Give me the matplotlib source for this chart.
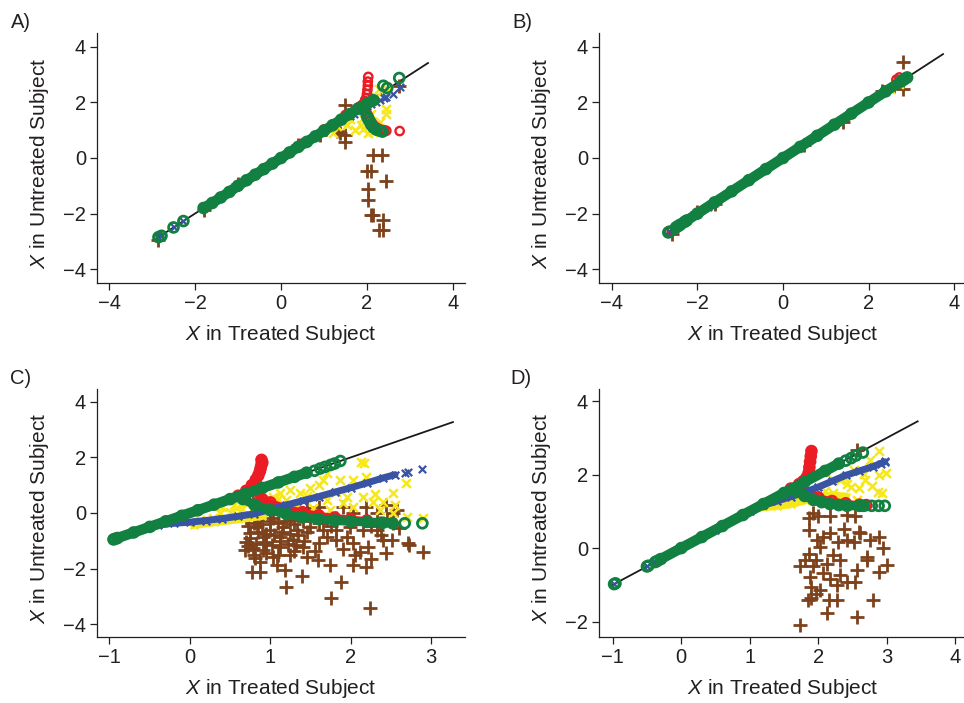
import matplotlib
matplotlib.use('Agg')
import matplotlib.pyplot as plt

plt.rcParams['font.family'] = ['Liberation Sans', 'DejaVu Sans']
plt.rcParams['mathtext.fontset'] = 'custom'
plt.rcParams['mathtext.it'] = 'Liberation Sans:italic'
plt.rcParams['mathtext.rm'] = 'Liberation Sans'

RED = '#ec1c24'
GREEN = '#118040'
BLUE = '#3a54a4'
YELLOW = '#f6e71c'
BROWN = '#7d421c'
INK = '#231f20'

# ---------------- panel A ----------------
a_line = [-2.9, 3.42]
a_green_band_x = [-1.8, -1.6, -1.4, -1.2, -1.0, -0.8, -0.6, -0.4, -0.2, 0.0, 0.2, 0.4, 0.6, 0.8, 1.0, 1.2, 1.4, 1.6, 1.8, 2.0, 2.15]
a_green_band_y = [-1.8, -1.62, -1.42, -1.22, -1.0, -0.8, -0.6, -0.4, -0.2, 0.0, 0.2, 0.4, 0.58, 0.78, 0.98, 1.18, 1.38, 1.58, 1.78, 1.95, 2.08]
a_green_x = [-2.85, -2.78, -2.5, -2.27, 2.38, 2.47, 2.75, 2.0, 2.03, 2.07, 2.1, 2.15, 2.22, 2.3, 2.36]
a_green_y = [-2.85, -2.8, -2.5, -2.27, 2.6, 2.52, 2.88, 1.5, 1.4, 1.3, 1.2, 1.1, 1.02, 0.98, 0.95]
a_red_x = [2.03, 2.02, 2.02, 2.01, 2.0, 1.98, 1.96, 1.93, 1.88, 1.82, 1.75, 2.0, 2.04, 2.07, 2.12, 2.18, 2.25, 2.32, 2.4, 2.45, 2.76, 1.5, 1.0, 0.5, -1.8]
a_red_y = [2.92, 2.75, 2.6, 2.45, 2.3, 2.15, 2.05, 1.98, 1.9, 1.84, 1.76, 1.6, 1.48, 1.36, 1.25, 1.15, 1.07, 1.02, 1.0, 0.98, 0.97, 1.55, 1.03, 0.52, -1.78]
a_blue_x = [-2.85, -2.78, -2.5, -2.27, -1.8, 1.6, 1.7, 1.8, 1.9, 2.0, 2.1, 2.2, 2.3, 2.4, 2.45, 2.77, 2.6]
a_blue_y = [-2.85, -2.8, -2.5, -2.27, -1.8, 1.5, 1.58, 1.68, 1.78, 1.86, 1.95, 2.02, 2.08, 2.15, 2.2, 2.57, 2.3]
a_yellow_x = [2.27, 2.45, 2.45, 1.72, 1.53, 1.22, 2.03, 2.15, 1.85, 2.3, 2.1, 1.9, 2.2, 1.6, 1.3, 2.0, 1.9, 2.5, 1.4]
a_yellow_y = [2.5, 1.78, 1.6, 1.0, 1.18, 0.9, 0.9, 0.93, 1.2, 1.3, 1.6, 1.45, 2.2, 1.4, 1.15, 1.1, 1.05, 2.45, 1.3]
a_brown_x = [-2.85, -1.8, -1.0, 0.4, 0.9, 1.49, 1.37, 1.49, 1.49, 1.3, 2.15, 2.34, 2.0, 2.09, 2.45, 2.03, 2.03, 2.09, 2.15, 2.38, 2.27, 2.37, 2.75, 1.85, 1.2]
a_brown_y = [-2.95, -1.86, -0.94, 0.46, 0.84, 1.91, 0.89, 0.82, 0.58, 0.98, 0.11, 0.11, -0.46, -0.46, -0.82, -1.13, -1.51, -2.05, -2.05, -2.23, -2.59, -2.59, 2.6, 1.95, 1.12]

# ---------------- panel B ----------------
b_line = [-2.7, 3.74]
b_green_band_x = [-2.4, -2.0, -1.6, -1.2, -0.8, -0.4, 0.0, 0.4, 0.8, 1.2, 1.6, 2.0, 2.4, 2.8]
b_green_band_y = [-2.4, -2.0, -1.6, -1.2, -0.8, -0.4, 0.0, 0.4, 0.8, 1.2, 1.6, 2.0, 2.4, 2.8]
b_green_x = [-2.68, -2.65, -2.5, -2.45, -2.3, -2.25, 2.75, 2.85, 2.9]
b_green_y = [-2.68, -2.65, -2.5, -2.45, -2.3, -2.25, 2.75, 2.85, 2.9]
b_red_x = [2.65, 2.72, -2.6]
b_red_y = [2.82, 2.9, -2.62]
b_blue_x = [-2.65, -2.25, -2.0, -1.75, 2.9, 2.6]
b_blue_y = [-2.65, -2.25, -2.0, -1.75, 2.9, 2.6]
b_yellow_x = [2.5, 2.7]
b_yellow_y = [2.5, 2.68]
b_brown_x = [2.8, 2.8, 2.31, 1.41, -2.6, -1.6, 2.6, -2.0, 0.5]
b_brown_y = [3.47, 2.47, 2.42, 1.31, -2.72, -1.66, 2.6, -1.95, 0.45]

# ---------------- panel C ----------------
c_line = [-0.95, 3.27]
c_green_band_x = [-0.9, -0.7, -0.5, -0.3, -0.1, 0.1, 0.3, 0.5, 0.7, 0.9, 1.1, 1.3, 1.45]
c_green_band_y = [-0.9, -0.7, -0.5, -0.3, -0.1, 0.1, 0.3, 0.5, 0.7, 0.9, 1.1, 1.3, 1.45]
c_green_low_x = [0.66, 0.8, 1.0, 1.2, 1.4, 1.6, 1.8, 2.0, 2.2, 2.4, 2.52]
c_green_low_y = [0.5, 0.3, 0.1, -0.04, -0.15, -0.22, -0.27, -0.3, -0.32, -0.35, -0.37]
c_green_x = [-0.95, -0.93, 1.55, 1.62, 1.68, 1.75, 1.8, 1.87, 2.67, 2.89]
c_green_y = [-0.95, -0.93, 1.52, 1.6, 1.66, 1.73, 1.78, 1.87, -0.37, -0.37]
c_red_up_x = [0.6, 0.7, 0.77, 0.82, 0.85, 0.87, 0.88, 0.89, 0.9, 0.89]
c_red_up_y = [0.62, 0.8, 1.0, 1.2, 1.35, 1.5, 1.62, 1.74, 1.82, 1.91]
c_red_low_x = [0.85, 0.9, 1.0, 1.2, 1.4, 1.6, 1.8, 2.0, 2.2]
c_red_low_y = [0.58, 0.5, 0.38, 0.18, 0.03, -0.08, -0.16, -0.22, -0.27]
c_blue_band_x = [-0.93, -0.7, -0.5, -0.4, -0.2, 0.0, 0.2, 0.4, 0.6, 0.8, 1.0, 1.2, 1.4, 1.6, 1.8, 2.0, 2.2, 2.4, 2.55]
c_blue_band_y = [-0.93, -0.7, -0.5, -0.43, -0.37, -0.33, -0.27, -0.2, -0.12, -0.03, 0.13, 0.29, 0.44, 0.59, 0.75, 0.91, 1.08, 1.26, 1.38]
c_blue_x = [2.67, 2.71, 2.89]
c_blue_y = [1.45, 1.46, 1.6]
c_yellow_band_x = [0.05, 0.3, 0.6, 0.9]
c_yellow_band_y = [-0.42, -0.33, -0.22, -0.1]
c_yellow_x = [2.13, 2.17, 2.69, 2.9, 2.53, 2.4, 2.19, 2.03, 1.86, 1.66, 1.82, 1.7, 1.61, 1.49, 1.37, 1.24, 1.12, 1.03, 0.95,
              1.7, 1.95, 2.15, 2.28, 2.03, 2.36, 2.53, 0.58, 0.37, 0.12, 0.29, 0.7, 0.91, 1.33, 1.53, 1.74,
              0.4, 0.55, 0.7, 0.85, 1.0, 1.2, 2.55, 2.7, 0.5, 0.65, 0.8, 1.1, 1.45, 1.9, 2.3]
c_yellow_y = [1.85, 1.79, 1.07, -0.19, 0.71, 0.41, 1.31, 1.19, 1.19, 1.19, 0.77, 1.43, 1.01, 0.89, 0.71, 0.83, 0.71, 0.59, 0.47,
              0.47, 0.59, 0.59, 0.41, 0.23, 0.11, -0.01, 0.17, -0.01, -0.25, -0.19, -0.07, 0.05, 0.23, 0.17, 0.11,
              0.2, 0.3, 0.4, 0.3, 0.25, 0.45, 0.3, -0.15, 0.05, 0.15, 0.2, 0.5, 0.6, 0.35, 0.7]
c_brown_x = [2.9, 2.71, 2.24, 1.76, 1.2, 1.88, 1.39, 2.19, 2.03, 1.74, 1.59, 1.18, 1.08, 0.87, 0.77, 0.81, 0.7, 0.68,
             0.91, 1.12, 1.28, 1.41, 1.45, 1.61, 1.82, 2.03, 2.21, 2.11, 2.4, 2.51, 2.38, 2.53, 2.44, 2.57, 2.32,
             2.19, 2.03, 1.9, 1.82, 1.7, 1.61, 1.45, 1.33, 1.2, 1.03, 0.87, 0.7, 0.83, 0.99, 1.16, 1.33, 1.49,
             1.66, 1.82, 1.99, 2.15, 2.32, 1.95, 1.7, 0.75, 0.91, 1.12, 0.95, 0.79, 1.24, 1.03, 0.87, 2.44, 2.73,
             2.36, 2.53, 2.19, 1.24,
             0.72, 0.8, 0.9, 1.0, 1.1, 1.2, 1.3, 1.4, 0.75, 0.85, 0.95, 1.05, 1.15, 1.25, 1.35, 1.45, 0.72, 0.82,
             0.92, 1.02, 1.12, 1.22, 1.32, 1.42, 0.8, 0.95, 1.1, 1.3, 1.55, 1.6, 1.75, 2.0, 2.25, 2.45, 2.6, 1.9,
             2.05, 2.25, 1.0, 0.9, 1.5]
c_brown_y = [-1.39, -1.09, -3.43, -3.07, -2.65, -2.47, -2.27, -1.93, -1.87, -1.87, -1.69, -2.05, -1.87, -2.11, -2.11,
             -1.63, -1.03, -1.33, -1.33, -1.21, -0.97, -1.21, -1.57, -1.09, -0.97, -1.09, -1.21, -1.39, -0.97, -0.97,
             -0.79, -0.01, 0.29, 0.11, -0.01, 0.23, -0.01, 0.23, -0.19, -0.25, 0.23, 0.17, 0.11, -0.01, -0.19, -0.25,
             -0.19, -0.49, -0.61, -0.49, -0.61, -0.49, -0.61, -0.61, -0.49, -0.61, -0.61, -0.85, -0.85, -0.73, -0.85,
             -0.85, -1.09, -1.27, -1.51, -1.57, -1.75, -1.45, -1.15, -0.37, -0.37, -0.25, -0.25,
             -0.45, -0.35, -0.4, -0.3, -0.35, -0.3, -0.4, -0.3, -0.9, -0.7, -0.75, -0.8, -0.7, -0.75, -0.8, -0.7,
             -1.2, -1.1, -1.05, -1.15, -1.0, -1.1, -1.15, -1.0, -1.5, -1.45, -1.5, -1.35, -1.35, -0.35, -0.45, -0.3,
             -0.45, -0.2, -0.55, -1.3, -1.5, -1.65, 0.1, -0.05, 0.0]

# ---------------- panel D ----------------
d_line = [-1.0, 3.45]
d_green_band_x = [-0.3, 0.0, 0.3, 0.6, 0.9, 1.2, 1.5, 1.8, 2.1, 2.3]
d_green_band_y = [-0.3, 0.0, 0.3, 0.6, 0.9, 1.2, 1.5, 1.8, 2.1, 2.3]
d_green_low_x = [1.69, 1.8, 1.93, 2.05, 2.17, 2.3, 2.42, 2.6]
d_green_low_y = [1.53, 1.42, 1.31, 1.25, 1.2, 1.17, 1.15, 1.15]
d_green_x = [-0.98, -0.96, -0.5, -0.48, -0.38, -0.35, 2.4, 2.48, 2.55, 2.65, 2.66, 2.78, 2.88, 2.97]
d_green_y = [-0.98, -0.96, -0.5, -0.48, -0.38, -0.35, 2.38, 2.45, 2.52, 2.6, 1.15, 1.15, 1.15, 1.15]
d_red_up_x = [1.6, 1.72, 1.78, 1.83, 1.86, 1.87, 1.88, 1.89, 1.9]
d_red_up_y = [1.62, 1.74, 1.82, 1.92, 2.05, 2.2, 2.35, 2.5, 2.64]
d_red_low_x = [1.75, 1.85, 2.0, 2.2, 2.4, 2.6, 2.7]
d_red_low_y = [1.6, 1.5, 1.38, 1.28, 1.22, 1.18, 1.17]
d_blue_band_x = [-0.3, 0.0, 0.5, 1.0, 1.2, 1.4, 1.6, 1.8, 2.0, 2.2, 2.4, 2.6, 2.8, 2.97]
d_blue_band_y = [-0.3, 0.0, 0.5, 1.0, 1.16, 1.28, 1.4, 1.52, 1.66, 1.82, 1.98, 2.1, 2.22, 2.35]
d_blue_x = [2.92, 2.97, -0.98, -0.5, -0.38]
d_blue_y = [2.3, 2.37, -0.98, -0.5, -0.38]
d_yellow_band_x = [1.2, 1.4, 1.6, 1.8, 2.0, 2.2, 2.4]
d_yellow_band_y = [1.12, 1.15, 1.2, 1.3, 1.37, 1.42, 1.4]
d_yellow_x = [2.88, 2.76, 2.88, 2.99, 2.78, 2.93, 2.59, 2.47, 2.32, 2.22, 2.68, 2.87, 2.42, 2.37, 2.66, 2.52, 2.22, 2.56, 2.1, 1.95]
d_yellow_y = [2.63, 2.4, 1.99, 2.04, 1.7, 1.5, 1.63, 1.67, 1.85, 1.49, 1.85, 1.53, 1.75, 1.94, 2.03, 2.13, 1.85, 1.31, 1.55, 1.45]
d_brown_x = [1.73, 2.57, 2.12, 2.8, 2.15, 2.27, 1.9, 1.85, 2.03, 1.96, 1.88, 1.73, 1.93, 2.12, 2.32, 2.27, 2.42, 2.54,
             2.57, 2.71, 2.88, 3.0, 2.95, 2.88, 2.76, 2.59, 2.52, 2.37, 2.29, 2.17, 2.07, 1.98, 1.86, 1.86, 1.93,
             2.0, 2.17, 2.42, 2.54, 2.03, 1.86, 1.81, 2.22, 2.32, 1.96, 2.07, 2.17, 1.9, 2.61, 2.71, 2.42, 2.57]
d_brown_y = [-2.1, -1.87, -1.78, -1.4, -1.42, -1.4, -1.37, -1.42, -1.15, -1.24, -0.78, -0.5, -0.5, -0.42, -0.73, -1.0,
             -0.92, -0.92, -0.6, -0.33, -0.65, -0.46, -0.01, 0.3, 0.21, 0.44, 0.17, 0.53, 0.17, 0.4, 0.31, 0.21, 0.49,
             0.81, 0.95, 0.86, 0.86, 0.9, 0.86, 0.03, -0.15, -0.33, -0.19, -0.33, -0.33, -0.69, -0.83, -1.06, 0.4,
             -0.24, 0.21, 2.67]


def style_axes(ax, xlim, ylim, xticks, yticks):
    ax.set_xlim(xlim)
    ax.set_ylim(ylim)
    ax.set_xticks(xticks)
    ax.set_yticks(yticks)
    for s in ['top', 'right']:
        ax.spines[s].set_visible(False)
    for s in ['left', 'bottom']:
        ax.spines[s].set_linewidth(0.9)
        ax.spines[s].set_color(INK)
    ax.tick_params(direction='out', length=5, width=0.9, pad=3, labelsize=14.5, colors=INK)
    ax.set_xlabel(r'$X$ in Treated Subject', fontsize=15, color=INK)
    ax.set_ylabel(r'$X$ in Untreated Subject', fontsize=15, color=INK)
    ax.xaxis.set_label_coords(0.5, -0.16)
    ax.yaxis.set_label_coords(-0.125, 0.48)


def band(ax, x, y, color, marker, lw, z):
    ax.plot(x, y, '-', color=color, lw=lw, solid_capstyle='round', zorder=z)
    if marker == 'o':
        ax.scatter(x, y, s=50, facecolors='none', edgecolors=color, linewidths=2, zorder=z)
    else:
        ax.scatter(x, y, s=30, marker=marker, color=color, linewidths=1.6, zorder=z)


def points(ax, brown, yellow, red, blue, green, line):
    ax.plot(line, line, color='#1a1a1a', lw=1.3, zorder=1)
    ax.scatter(brown[0], brown[1], s=110, marker='+', color=BROWN, linewidths=2, zorder=2)
    ax.scatter(yellow[0], yellow[1], s=40, marker='x', color=YELLOW, linewidths=1.8, zorder=3)
    ax.scatter(red[0], red[1], s=36, facecolors='none', edgecolors=RED, linewidths=1.7, zorder=4)
    ax.scatter(blue[0], blue[1], s=28, marker='x', color=BLUE, linewidths=1.6, zorder=5)
    ax.scatter(green[0], green[1], s=50, facecolors='none', edgecolors=GREEN, linewidths=2, zorder=6)


fig = plt.figure(figsize=(9.64, 7.03), dpi=100)
W, H = 964.0, 703.0


def rect(left, top, right, bottom):
    return [left / W, 1 - bottom / H, (right - left) / W, (bottom - top) / H]


# A
ax = fig.add_axes(rect(97, 33, 465, 283))
style_axes(ax, (-4.28, 4.28), (-4.5, 4.5), [-4, -2, 0, 2, 4], [-4, -2, 0, 2, 4])
points(ax, (a_brown_x, a_brown_y), (a_yellow_x, a_yellow_y), (a_red_x, a_red_y),
       (a_blue_x, a_blue_y), (a_green_x, a_green_y), a_line)
band(ax, a_green_band_x, a_green_band_y, GREEN, 'o', 7.5, 6)

# B
ax = fig.add_axes(rect(599, 33, 967, 283))
style_axes(ax, (-4.3, 4.3), (-4.5, 4.5), [-4, -2, 0, 2, 4], [-4, -2, 0, 2, 4])
points(ax, (b_brown_x, b_brown_y), (b_yellow_x, b_yellow_y), (b_red_x, b_red_y),
       (b_blue_x, b_blue_y), (b_green_x, b_green_y), b_line)
band(ax, b_green_band_x, b_green_band_y, GREEN, 'o', 7.5, 6)

# C
ax = fig.add_axes(rect(97, 389, 465, 637))
style_axes(ax, (-1.155, 3.42), (-4.46, 4.46), [-1, 0, 1, 2, 3], [-4, -2, 0, 2, 4])
points(ax, (c_brown_x, c_brown_y), (c_yellow_x, c_yellow_y), ([], []),
       (c_blue_x, c_blue_y), (c_green_x, c_green_y), c_line)
band(ax, c_yellow_band_x, c_yellow_band_y, YELLOW, 'x', 6, 3)
band(ax, c_red_up_x, c_red_up_y, RED, 'o', 6, 4)
band(ax, c_red_low_x, c_red_low_y, RED, 'o', 5, 4)
band(ax, c_blue_band_x, c_blue_band_y, BLUE, 'x', 5, 5)
band(ax, c_green_band_x, c_green_band_y, GREEN, 'o', 7.5, 6)
band(ax, c_green_low_x, c_green_low_y, GREEN, 'o', 6.5, 6)

# D
ax = fig.add_axes(rect(599, 389, 967, 637))
style_axes(ax, (-1.2, 4.17), (-2.42, 4.33), [-1, 0, 1, 2, 3, 4], [-2, 0, 2, 4])
points(ax, (d_brown_x, d_brown_y), (d_yellow_x, d_yellow_y), ([], []),
       (d_blue_x, d_blue_y), (d_green_x, d_green_y), d_line)
band(ax, d_yellow_band_x, d_yellow_band_y, YELLOW, 'x', 6, 3)
band(ax, d_red_up_x, d_red_up_y, RED, 'o', 6, 4)
band(ax, d_red_low_x, d_red_low_y, RED, 'o', 5, 4)
band(ax, d_blue_band_x, d_blue_band_y, BLUE, 'x', 5, 5)
band(ax, d_green_band_x, d_green_band_y, GREEN, 'o', 7.5, 6)
band(ax, d_green_low_x, d_green_low_y, GREEN, 'o', 6.5, 6)

for lab, px, py in [('A)', 11, 22), ('B)', 512, 22), ('C)', 10, 378), ('D)', 510, 378)]:
    fig.text(px / W, 1 - py / H, lab, ha='left', va='center', fontsize=14.5, color=INK)

fig.savefig('out.png', dpi=100)
